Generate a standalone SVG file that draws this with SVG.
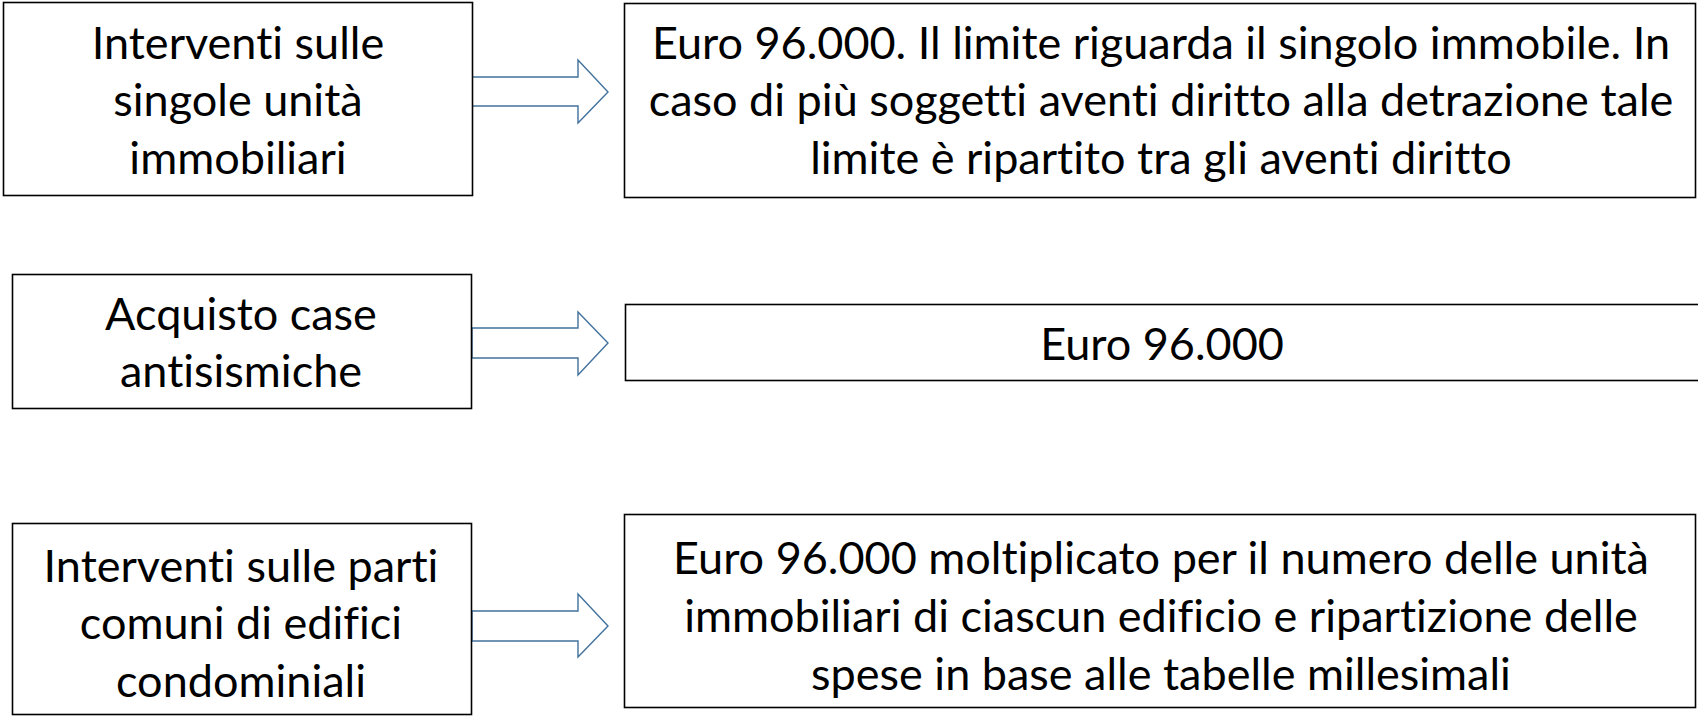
<svg xmlns="http://www.w3.org/2000/svg" width="1698" height="716" viewBox="0 0 1698 716">
<style>
.box{fill:#fff;stroke:#000;stroke-width:1.6}
.arr{fill:#fff;stroke:#41719c;stroke-width:1.4;stroke-linejoin:miter}
text{font-family:Lato,"Noto Sans",sans-serif;font-size:45px;fill:#000;text-anchor:middle;font-variant-ligatures:none}
</style>
<rect width="1698" height="716" fill="#fff"/>
<g id="connectors">
<polygon class="arr" points="472,77 578,77 578,60 608,92 578,123 578,106 472,106"/>
<polygon class="arr" points="472,328 578,328 578,312 608,343 578,375 578,358 472,358"/>
<polygon class="arr" points="472,611 578,611 578,594 608,626 578,657 578,641 472,641"/>
</g>
<g id="n1">
<rect class="box" x="3.5" y="2.5" width="469" height="193"/>
<text x="238"><tspan x="238" y="59">Interventi sulle</tspan><tspan x="238" y="116">singole unità</tspan><tspan x="238" y="174">immobiliari</tspan></text>
</g>
<g id="n2">
<rect class="box" x="624.5" y="3.5" width="1071" height="194"/>
<text x="1161"><tspan x="1161" y="59">Euro 96.000. Il limite riguarda il singolo immobile. In</tspan><tspan x="1161" y="116">caso di più soggetti aventi diritto alla detrazione tale</tspan><tspan x="1161" y="174">limite è ripartito tra gli aventi diritto</tspan></text>
</g>
<g id="n3">
<rect class="box" x="12.5" y="274.5" width="459" height="134"/>
<text x="241"><tspan x="241" y="330">Acquisto case</tspan><tspan x="241" y="387">antisismiche</tspan></text>
</g>
<g id="n4">
<rect class="box" x="625.5" y="304.5" width="1080" height="76"/>
<text x="1162" y="360">Euro 96.000</text>
</g>
<g id="n5">
<rect class="box" x="12.5" y="523.5" width="459" height="191"/>
<text x="241"><tspan x="241" y="582">Interventi sulle parti</tspan><tspan x="241" y="639">comuni di edifici</tspan><tspan x="241" y="697">condominiali</tspan></text>
</g>
<g id="n6">
<rect class="box" x="624.5" y="514.5" width="1071" height="193"/>
<text x="1161"><tspan x="1161" y="574">Euro 96.000 moltiplicato per il numero delle unità</tspan><tspan x="1161" y="632">immobiliari di ciascun edificio e ripartizione delle</tspan><tspan x="1161" y="690">spese in base alle tabelle millesimali</tspan></text>
</g>
</svg>
